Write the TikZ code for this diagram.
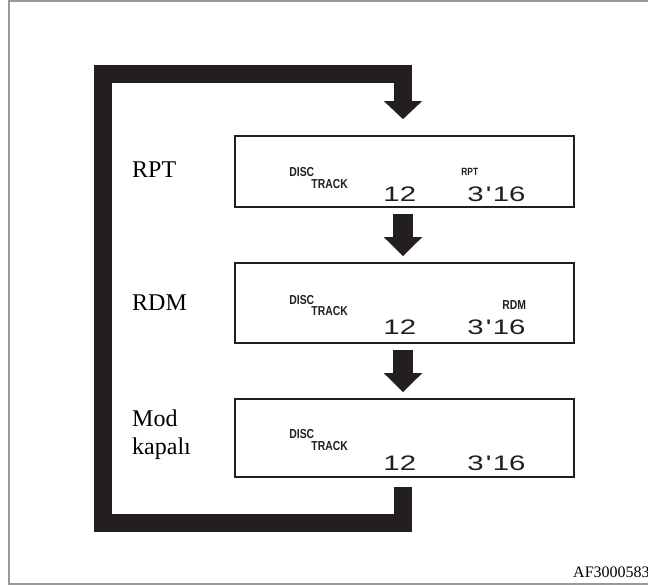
\documentclass[tikz,border=0pt]{standalone}
\usepackage{fontspec}
\setmainfont{Liberation Serif}
\newfontfamily\lcdfont[FakeStretch=1.4]{Liberation Sans}
\newfontfamily\lblsans[FakeStretch=0.8]{Liberation Sans}
\usetikzlibrary{arrows.meta}
\definecolor{ink}{HTML}{231F20}
\tikzset{
  lcdbox/.style={draw=ink, line width=1.6pt, minimum width=339pt, inner sep=0pt},
  sidelbl/.style={font=\fontsize{24}{28}\selectfont, inner sep=0pt, anchor=base west, align=left},
  smallcap/.style={font=\lblsans\bfseries\fontsize{13}{14}\selectfont, inner sep=0pt, anchor=base west, text=ink},
  modelbl/.style={font=\lblsans\bfseries\fontsize{#1}{12}\selectfont, inner sep=0pt, anchor=base west, text=ink},
  digits/.style={font=\lcdfont\fontsize{21}{22}\selectfont, inner sep=0pt, anchor=base west, text=ink},
  bigarrow/.style={draw=ink, line width=20pt, -{Triangle[width=37pt,length=19pt]}},
  loopline/.style={draw=ink, line width=18pt, line join=miter, -{Triangle[width=37pt,length=18pt]}},
}
\begin{document}
\begin{tikzpicture}[x=1pt,y=-1pt]
\useasboundingbox (0,0) rectangle (648,585);
\fill[white] (0,0) rectangle (648,585);
\draw[black!40, line width=1.4pt] (9,1) rectangle (700,584);

% display boxes
\node[lcdbox, minimum height=71pt] (b1) at (404.5,171.5) {};
\node[lcdbox, minimum height=80pt] (b2) at (404.5,303) {};
\node[lcdbox, minimum height=78pt] (b3) at (404.5,438) {};

% box contents
\foreach \b/\dy/\ty/\ny in {b1/31/19/6, b2/39/28/9, b3/39/27/7}{
  \node[smallcap] (\b disc) at ([shift={(55,-\dy)}]\b.south west) {DISC};
  \node[smallcap] (\b track) at ([shift={(77,-\ty)}]\b.south west) {TRACK};
  \node[digits] (\b num) at ([shift={(149,-\ny)}]\b.south west) {12};
  \node[digits] (\b time) at ([shift={(233,-\ny)}]\b.south west) {3\kern2pt'\kern1.5pt 16};
}
\node[modelbl=10.5] (rpt) at ([shift={(227,-32)}]b1.south west) {RPT};
\node[modelbl=13] (rdm) at ([shift={(268,-34)}]b2.south west) {RDM};

% side labels
\node[sidelbl] (l1) at (132,178) {RPT};
\node[sidelbl] (l2) at (132,311) {RDM};
\node[sidelbl] (l3) at (132,454) {Mod\\kapalı};

% arrows between boxes
\draw[bigarrow] ([shift={(-1.5,6)}]b1.south) -- ([shift={(-1.5,-6)}]b2.north);
\draw[bigarrow] ([shift={(-1.5,6)}]b2.south) -- ([shift={(-1.5,-6)}]b3.north);

% return loop
\coordinate (ls) at ([shift={(-1.5,9)}]b3.south);
\coordinate (le) at ([shift={(-1.5,-16)}]b1.north);
\draw[loopline] (ls) -- (ls |- 0,523) -- (102.5,523) -- (102.5,74) -- (le |- 0,74) -- (le);

% figure code (cut at the right edge, as in the reference)
\node[font=\fontsize{16}{18}\selectfont, inner sep=0pt, anchor=base west] (code) at (573,577) {AF3000583};
\end{tikzpicture}
\end{document}
